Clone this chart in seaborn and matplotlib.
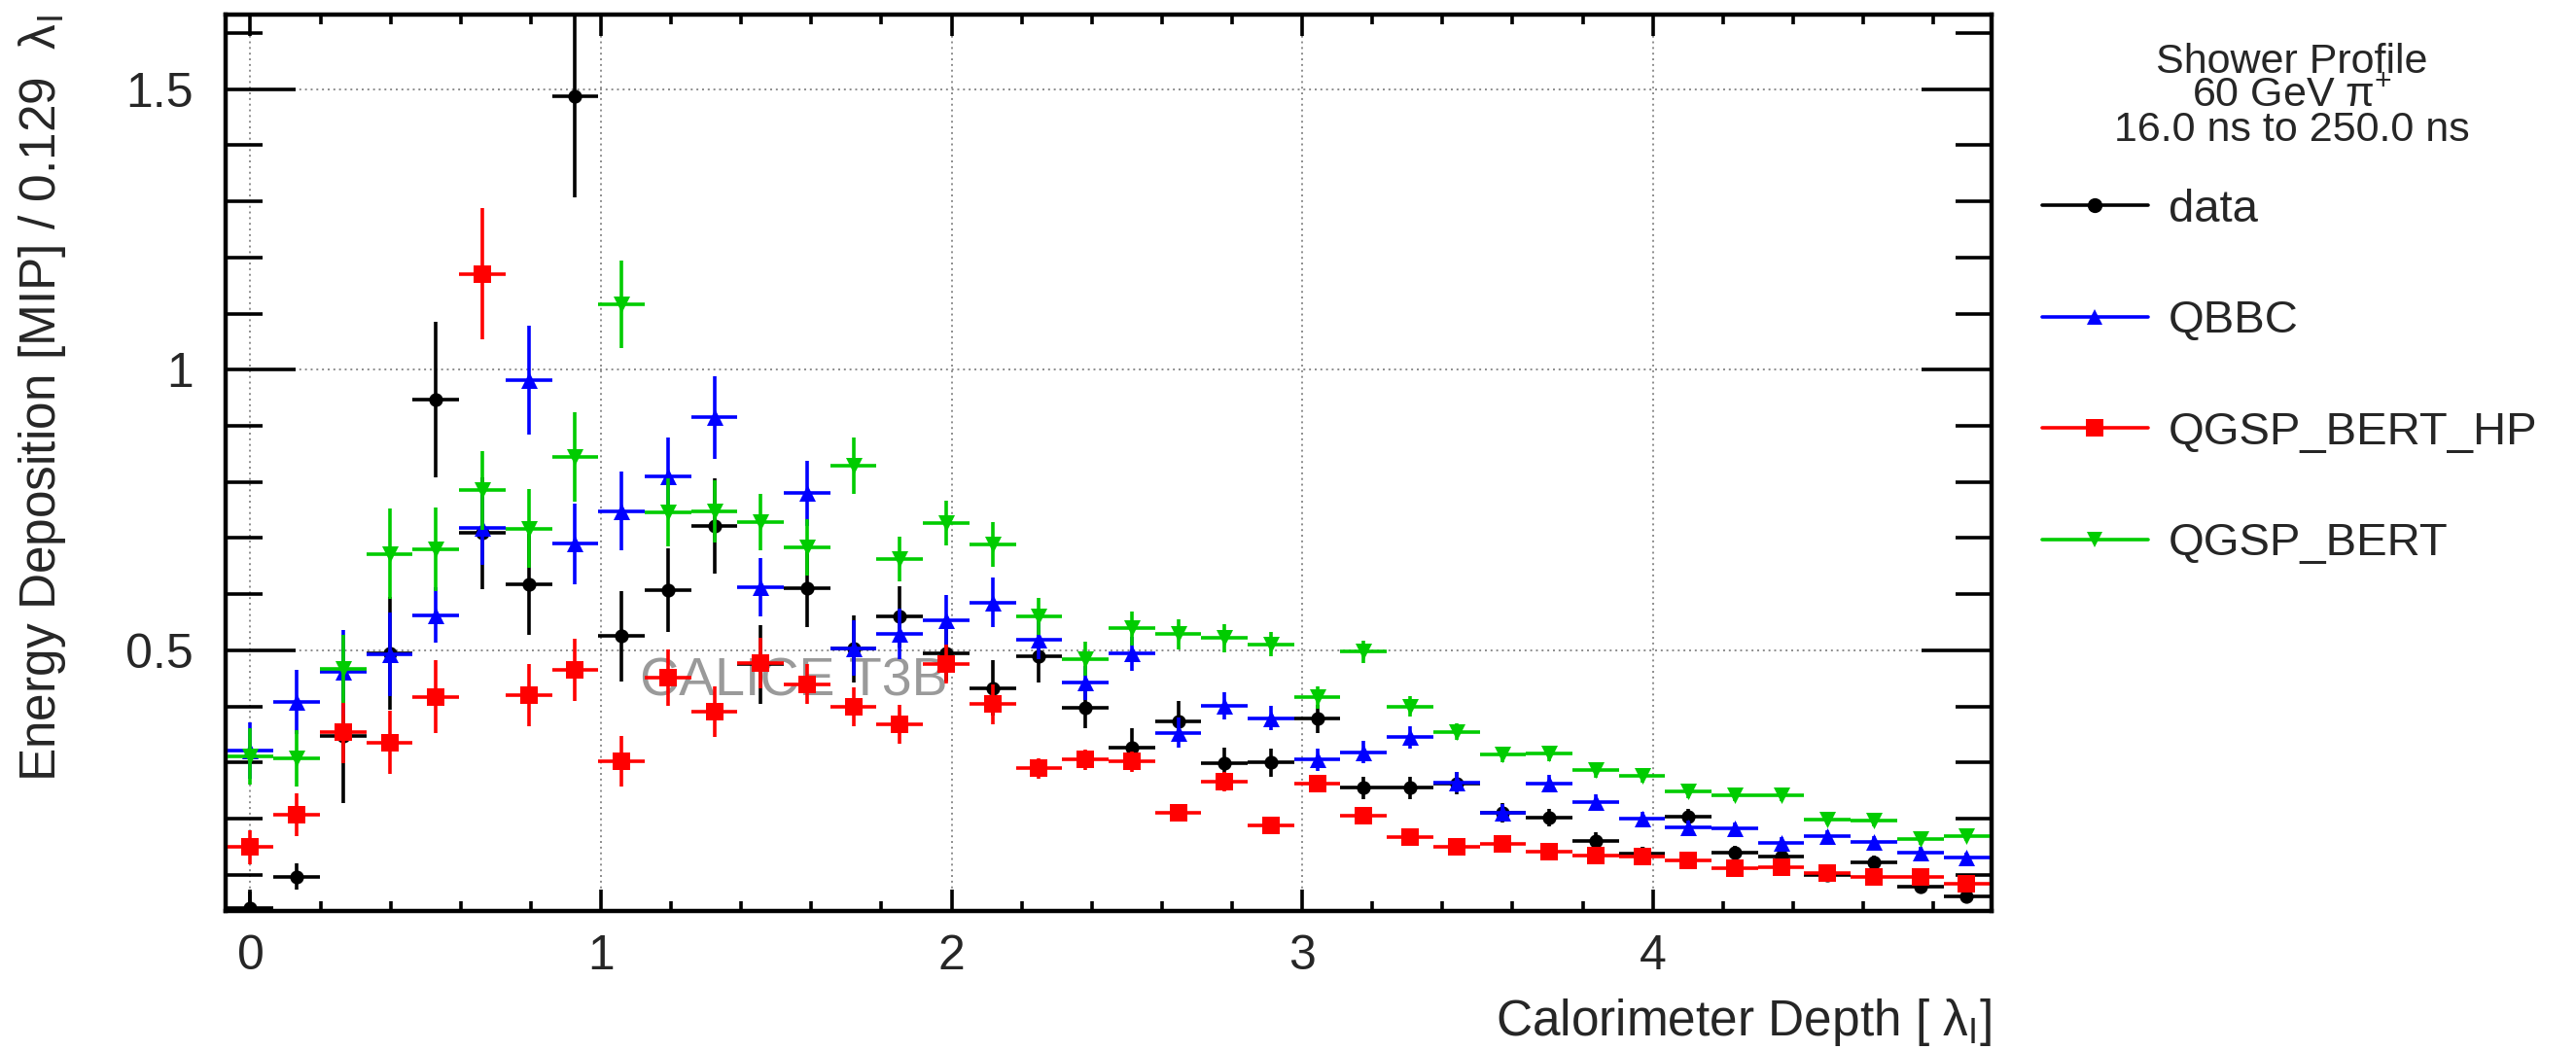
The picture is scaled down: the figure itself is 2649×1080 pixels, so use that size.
import numpy as np
import pandas as pd
import matplotlib
matplotlib.use("Agg")
import matplotlib.pyplot as plt
import seaborn as sns
from matplotlib.lines import Line2D
from matplotlib.ticker import MultipleLocator, FixedLocator, FuncFormatter

# ---------------- data ----------------
bin_width = 0.1323
depth = np.round(np.arange(38) * bin_width, 4)

data_vals = [0.040, 0.097, 0.347, 0.495, 0.947, 0.709, 0.617, 1.488, 0.525, 0.607,
             0.721, 0.475, 0.610, 0.503, 0.560, 0.495, 0.433, 0.489, 0.397, 0.327,
             0.374, 0.299, 0.300, 0.378, 0.255, 0.255, 0.263, 0.211, 0.202, 0.160,
             0.137, 0.203, 0.139, 0.133, 0.100, 0.122, 0.079, 0.061]
data_err = [0.030, 0.023, 0.120, 0.100, 0.138, 0.100, 0.090, 0.180, 0.080, 0.075,
            0.085, 0.070, 0.068, 0.060, 0.055, 0.050, 0.050, 0.047, 0.035, 0.035,
            0.035, 0.028, 0.025, 0.025, 0.020, 0.020, 0.020, 0.017, 0.015, 0.015,
            0.013, 0.015, 0.012, 0.012, 0.010, 0.012, 0.010, 0.010]

qbbc_vals = [0.321, 0.408, 0.461, 0.493, 0.563, 0.718, 0.982, 0.690, 0.748, 0.810,
             0.915, 0.612, 0.780, 0.504, 0.529, 0.553, 0.585, 0.519, 0.442, 0.494,
             0.353, 0.401, 0.379, 0.305, 0.318, 0.345, 0.265, 0.211, 0.263, 0.230,
             0.200, 0.185, 0.182, 0.156, 0.169, 0.159, 0.139, 0.130]
qbbc_err = [0.050, 0.058, 0.075, 0.075, 0.050, 0.065, 0.097, 0.072, 0.070, 0.070,
            0.074, 0.052, 0.058, 0.050, 0.045, 0.045, 0.044, 0.035, 0.030, 0.030,
            0.027, 0.025, 0.022, 0.020, 0.020, 0.020, 0.018, 0.015, 0.015, 0.014,
            0.013, 0.012, 0.012, 0.011, 0.010, 0.010, 0.010, 0.009]

hp_vals = [0.149, 0.207, 0.354, 0.336, 0.417, 1.171, 0.420, 0.465, 0.302, 0.451,
           0.390, 0.478, 0.440, 0.399, 0.368, 0.476, 0.404, 0.290, 0.305, 0.302,
           0.211, 0.266, 0.188, 0.262, 0.205, 0.167, 0.150, 0.155, 0.141, 0.135,
           0.133, 0.125, 0.111, 0.114, 0.103, 0.096, 0.096, 0.084]
hp_err = [0.031, 0.038, 0.055, 0.057, 0.065, 0.117, 0.055, 0.055, 0.045, 0.050,
          0.045, 0.045, 0.035, 0.035, 0.035, 0.035, 0.035, 0.018, 0.018, 0.018,
          0.015, 0.018, 0.012, 0.015, 0.012, 0.010, 0.010, 0.010, 0.009, 0.009,
          0.009, 0.008, 0.008, 0.008, 0.008, 0.008, 0.008, 0.008]

bert_vals = [0.311, 0.308, 0.467, 0.672, 0.680, 0.785, 0.717, 0.845, 1.116, 0.746,
             0.748, 0.729, 0.683, 0.829, 0.663, 0.727, 0.689, 0.560, 0.485, 0.539,
             0.529, 0.522, 0.511, 0.416, 0.498, 0.400, 0.355, 0.314, 0.316, 0.286,
             0.276, 0.248, 0.242, 0.242, 0.199, 0.196, 0.164, 0.169]
bert_err = [0.050, 0.050, 0.060, 0.080, 0.075, 0.070, 0.070, 0.080, 0.078, 0.060,
            0.055, 0.050, 0.050, 0.050, 0.040, 0.040, 0.040, 0.033, 0.030, 0.030,
            0.027, 0.025, 0.022, 0.020, 0.020, 0.018, 0.015, 0.014, 0.013, 0.013,
            0.012, 0.012, 0.011, 0.011, 0.010, 0.010, 0.010, 0.009]

series_names = ["data", "QBBC", "QGSP_BERT_HP", "QGSP_BERT"]
series_colors = ["#000000", "#0000ff", "#ff0000", "#00cc00"]
series_markers = ["o", "^", "s", "v"]

header_lines = ["Shower Profile", "60 GeV π$^{+}$", "16.0 ns to 250.0 ns"]

# ---------------- style ----------------
sns.set_theme(style="ticks")
plt.rcParams['font.family'] = ['Liberation Sans', 'DejaVu Sans']
plt.rcParams['mathtext.fontset'] = 'custom'
plt.rcParams['mathtext.rm'] = 'Liberation Sans'
plt.rcParams['mathtext.it'] = 'Liberation Sans:italic'
plt.rcParams['mathtext.bf'] = 'Liberation Sans:bold'

W, H = 2649, 1080
fig = plt.figure(figsize=(W / 100, H / 100), dpi=100)
fig.patch.set_facecolor("white")
L, R, T, B = 232, 2048, 15, 937
ax = fig.add_axes([L / W, (H - B) / H, (R - L) / W, (B - T) / H])
ax.set_facecolor("white")

frames = []
for name, vals, errs in zip(series_names,
                            [data_vals, qbbc_vals, hp_vals, bert_vals],
                            [data_err, qbbc_err, hp_err, bert_err]):
    frames.append(pd.DataFrame({"depth": depth, "value": vals, "err": errs, "series": name}))
df = pd.concat(frames, ignore_index=True)

sizes = {"data": 105, "QBBC": 150, "QGSP_BERT_HP": 150, "QGSP_BERT": 150}
for i, (name, col, mk) in enumerate(zip(series_names, series_colors, series_markers)):
    sub = df[df["series"] == name]
    ax.errorbar(sub["depth"], sub["value"], xerr=bin_width / 2, yerr=sub["err"],
                fmt="none", ecolor=col, elinewidth=2.6, capsize=0, zorder=3 + 2 * i)
    sns.scatterplot(data=sub, x="depth", y="value", color=col, marker=mk,
                    s=sizes[name], linewidth=0, edgecolor=col, legend=False,
                    ax=ax, zorder=4 + 2 * i)

ax.set_xlim(-0.0707, 4.966)
ax.set_ylim(0.0355, 1.633)

ax.xaxis.set_major_locator(MultipleLocator(1))
ax.xaxis.set_minor_locator(MultipleLocator(0.2))
ax.yaxis.set_major_locator(FixedLocator([0.5, 1.0, 1.5]))
ax.yaxis.set_minor_locator(MultipleLocator(0.1))
ax.xaxis.set_major_formatter(FuncFormatter(lambda v, p: "%g" % v))
ax.yaxis.set_major_formatter(FuncFormatter(lambda v, p: "%g" % v))

ax.tick_params(which="both", direction="in", top=True, right=True,
               width=2.6, color="black", labelsize=36)
ax.tick_params(axis="y", which="major", length=52, pad=24)
ax.tick_params(axis="y", which="minor", length=27)
ax.tick_params(axis="x", which="major", length=16, pad=17)
ax.tick_params(axis="x", which="minor", length=7)

for sp in ax.spines.values():
    sp.set_linewidth(3.2)
    sp.set_color("black")

ax.grid(True, which="major", linestyle=(0, (1, 2)), color="#8c8c8c", linewidth=1.4, zorder=1)
ax.set_axisbelow(True)

ax.set_xlabel(r"Calorimeter Depth [ $\mathrm{λ_{I}}$]", fontsize=37, loc="right")
ax.xaxis.set_label_coords(1.0, -0.095)
ax.set_ylabel(r"Energy Deposition [MIP] / 0.129  $\mathrm{λ_{I}}$", fontsize=37, loc="top")
ax.yaxis.set_label_coords(-0.089, 1.0)

ax.text(1.55, 0.444, "CALICE T3B", fontsize=40, color="#9a9a9a",
        ha="center", va="center", zorder=2)

# header text
hx = 2357 / W
for txt, base in zip(header_lines, [75, 110, 145]):
    fig.text(hx, 1 - base / H, txt, fontsize=31, ha="center", va="baseline")

handles = []
leg_ms = {"data": 11, "QBBC": 11, "QGSP_BERT_HP": 13, "QGSP_BERT": 11}
for name, col, mk in zip(series_names, series_colors, series_markers):
    handles.append(Line2D([0], [0], color=col, marker=mk, markersize=leg_ms[name],
                          markeredgewidth=0, linewidth=2.6))
fig.legend(handles, series_names, loc="upper left",
           bbox_to_anchor=(2100 / W, 1 - 194 / H), frameon=False, fontsize=34,
           handlelength=2.3, handletextpad=0.45, labelspacing=1.49,
           borderaxespad=0, borderpad=0)

fig.savefig("out.png", dpi=100, facecolor="white")
